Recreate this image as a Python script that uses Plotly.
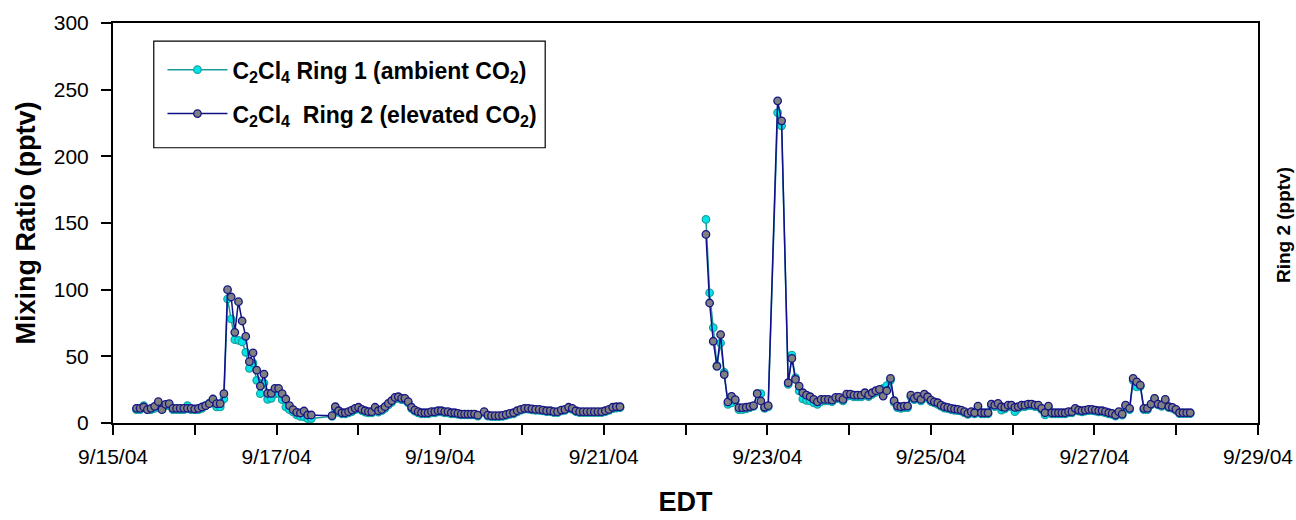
import pandas as pd
import plotly.graph_objects as go

# ---------------- data ----------------
# segment time spans (start, end); samples evenly spaced inside each segment
SEG_START = ["2004-09-15 06:53", "2004-09-17 16:16", "2004-09-19 12:55",
             "2004-09-22 06:00", "2004-09-23 03:02", "2004-09-23 06:08",
             "2004-09-24 13:13", "2004-09-27 10:19"]
SEG_END = ["2004-09-17 10:12", "2004-09-19 11:04", "2004-09-21 04:47",
           "2004-09-23 00:16", "2004-09-23 04:12", "2004-09-24 12:09",
           "2004-09-27 09:08", "2004-09-28 04:07"]
# a data gap (no line) occurs before this segment index
BREAK_BEFORE = 3

ring1_a = [10, 10, 13, 10, 10, 11, 15, 12, 13, 13, 10, 10, 10, 10, 13, 10, 10, 10, 11, 13,
           15, 15, 12, 12, 18, 93, 78, 62.5, 62, 60.8, 53, 41, 45, 32, 22, 30, 17.7, 18.5,
           22, 22, 17.5, 12, 10, 8.4, 6, 5, 4.5, 3.3, 3.3]
ring2_a = [11, 11, 12, 10, 11, 12.5, 16, 10, 14, 14.5, 11, 11, 11, 11, 11, 11, 10.5, 11, 12, 13,
           14.5, 18, 14.5, 14.5, 22, 100, 94.5, 68, 91, 76.5, 65, 46, 52.6, 39.6, 27.7, 36.7,
           22.2, 22.2, 26, 26, 22, 18, 13, 10, 8, 7.5, 9, 6, 6]

ring1_b1 = [5, 10.5, 8, 6.8, 6.8, 7.5, 8.5, 10, 11, 9.2, 8.2, 7.5, 7.5, 10.5, 8.2, 9.2, 11, 13.5,
            15.5, 18, 18.5, 17.5, 17.2, 15, 10.8, 8.8, 7.6, 6.9, 6.9, 6.9, 7.6, 7.6, 8.4, 8.4,
            7.6, 7.6, 6.9, 6.9, 6.4, 6, 6, 6, 6, 6, 5.2]
ring2_b1 = [5.5, 12.2, 9.2, 7.7, 7.7, 8.5, 9.7, 11, 11.8, 10.2, 9.2, 8.5, 8.5, 11.8, 9.2, 10.2,
            12.2, 14.7, 16.7, 19.2, 19.7, 18.5, 18.5, 16, 11.8, 9.7, 8.5, 7.7, 7.7, 7.7, 8.5,
            8.5, 9.2, 9.2, 8.5, 8.5, 7.7, 7.7, 7.2, 6.7, 6.7, 6.7, 6.7, 6.7, 5.9]

ring1_b2 = [7.8, 5.2, 4.8, 4.8, 4.8, 5, 5.6, 6.4, 6.9, 8.4, 9.6, 10.4, 10.3, 9.9, 9.5, 9.4, 9,
            8.5, 8.5, 7.8, 7.8, 9, 9.5, 11, 10.2, 8.5, 7.8, 7.8, 7.8, 7.8, 7.8, 7.8, 7.8, 8.5,
            9.5, 10.8, 11.2, 11.5]
ring2_b2 = [8.5, 5.9, 5.5, 5.5, 5.5, 5.7, 6.4, 7.2, 7.7, 9.2, 10.2, 11, 11, 10.6, 10.2, 10.2,
            9.7, 9.2, 9.2, 8.5, 8.5, 9.7, 10.2, 11.8, 11, 9.2, 8.5, 8.5, 8.5, 8.5, 8.5, 8.5,
            8.5, 9.2, 10.2, 11.8, 12.2, 12.2]

ring1_c1 = [152.7, 97.7, 71.5, 43, 60, 38, 14, 15, 16.5, 10, 10, 10.5, 11.5, 12.5, 22, 22, 11, 12]
ring2_c1 = [141.4, 90, 61.3, 42.5, 66.3, 36.3, 15.8, 20, 17.5, 11.5, 11.5, 11.8, 12.3, 13, 22,
            16.5, 11.8, 13]

ring1_c2 = [232.8, 222.9]
ring2_c2 = [241.6, 226.6]

ring1_c3 = [29, 51, 34, 24, 18, 17, 16.5, 15, 14, 16, 16.5, 16.5, 16, 18, 18.5, 16.5, 20, 20.5,
            19.5, 19.5, 19.5, 21, 19.8, 21.5, 23, 24, 26, 28, 32]
ring2_c3 = [30.2, 48.4, 32.7, 27.7, 22.7, 20.9, 19.7, 17.7, 15.9, 17.7, 17.7, 17.7, 17.2, 19.2,
            19.2, 17.7, 21.7, 21.7, 20.9, 20.9, 20.9, 22.7, 20.9, 22.7, 24.2, 25.2, 20.2, 24.2,
            33.4]

ring1_c4 = [15.5, 11.5, 11, 11.5, 11.5, 19.5, 17.5, 19, 16.5, 20.5, 18.5, 16, 15, 14, 12.5, 11.2,
            10.8, 10, 9.5, 9.2, 8.8, 7.6, 6.4, 7.6, 6.8, 11.5, 6.8, 6.8, 6.8, 13, 12.3, 13.5,
            9.7, 10.5, 12.3, 12.3, 8.5, 11, 12.3, 12.3, 13, 13, 12.3, 12.3, 10, 6, 11.5, 6.8,
            6.8, 6.8, 6.8, 6.8, 7.6, 7.6, 10, 8.8, 8.3, 8.8, 9.2, 9.2, 8.8, 8.3, 8.3, 7.6, 6.8,
            6.4, 5.2, 7.6, 5.8, 12.5]
ring2_c4 = [16.7, 12.7, 12.2, 12.7, 12.7, 20.9, 18.5, 20.2, 17.7, 21.7, 19.7, 17.2, 15.9, 15.2,
            13.4, 12.2, 11.7, 11, 10.5, 10.2, 9.7, 8.5, 7.2, 8.5, 7.7, 12.7, 7.7, 7.7, 7.7, 14.2,
            13.4, 14.7, 12.2, 11.7, 13.4, 13.4, 11.7, 12.2, 13.4, 13.4, 14.2, 14.2, 13.4, 13.4,
            11, 7.7, 12.7, 7.7, 7.7, 7.7, 7.7, 7.7, 8.5, 8.5, 11, 9.7, 9.2, 9.7, 10.2, 10.2, 9.7,
            9.2, 9.2, 8.5, 7.7, 7.2, 6, 8.5, 6.7, 13.4]

ring1_c5 = [10, 32, 27, 27.5, 10, 10, 13.5, 17.5, 13.5, 12.5, 16.5, 11.5, 11, 9.5, 7, 7, 7, 7]
ring2_c5 = [11, 33.4, 30.9, 28.4, 11, 11, 14.2, 18.5, 14.2, 13.4, 17.7, 12.2, 11.7, 10.2, 7.7,
            7.7, 7.7, 7.7]

RING1_SEGS = [ring1_a, ring1_b1, ring1_b2, ring1_c1, ring1_c2, ring1_c3, ring1_c4, ring1_c5]
RING2_SEGS = [ring2_a, ring2_b1, ring2_b2, ring2_c1, ring2_c2, ring2_c3, ring2_c4, ring2_c5]

TICK_DATES = ["2004-09-15", "2004-09-17", "2004-09-19", "2004-09-21",
              "2004-09-23", "2004-09-25", "2004-09-27", "2004-09-29"]
TICK_LABELS = ["9/15/04", "9/17/04", "9/19/04", "9/21/04",
               "9/23/04", "9/25/04", "9/27/04", "9/29/04"]
MINOR_TICK_DATES = ["2004-09-16", "2004-09-18", "2004-09-20", "2004-09-22",
                    "2004-09-24", "2004-09-26", "2004-09-28"]
Y_TICKS = [0, 50, 100, 150, 200, 250, 300]

NAME1 = "<b>C<sub>2</sub>Cl<sub>4</sub> Ring 1 (ambient CO<sub>2</sub>)</b>"
NAME2 = "<b>C<sub>2</sub>Cl<sub>4</sub>\u00a0 Ring 2 (elevated CO<sub>2</sub>)</b>"


def build(segs):
    xs, ys = [], []
    for i, vals in enumerate(segs):
        if i == BREAK_BEFORE:
            xs.append(None)
            ys.append(None)
        t = pd.date_range(SEG_START[i], SEG_END[i], periods=len(vals))
        xs.extend(list(t))
        ys.extend(vals)
    return xs, ys


x1, y1 = build(RING1_SEGS)
x2, y2 = build(RING2_SEGS)

FONT = "Liberation Sans, Arial, sans-serif"
TICKSTYLE = dict(ticks="outside", ticklen=10, tickwidth=1.5, tickcolor="black")

fig = go.Figure()
fig.add_trace(go.Scatter(
    x=x1, y=y1, mode="lines+markers", name=NAME1, legendgroup="r1",
    line=dict(color="#1b9a9a", width=1.5),
    marker=dict(symbol="circle", size=7.5, color="#00e5e5",
                line=dict(color="#15a0a0", width=1.2)),
))
fig.add_trace(go.Scatter(
    x=x2, y=y2, mode="lines+markers", name=NAME2, legendgroup="r2",
    line=dict(color="#101088", width=1.5),
    marker=dict(symbol="circle", size=7.5, color="#808080",
                line=dict(color="#151585", width=1.3)),
))

fig.update_layout(
    width=1296, height=520,
    margin=dict(l=112.5, r=37.7, t=22.5, b=97.3, autoexpand=False),
    paper_bgcolor="white", plot_bgcolor="white",
    font=dict(family=FONT, color="black", size=21),
    showlegend=True,
    legend=dict(
        x=(162 - 112.5) / 1145.8, y=0.937, xanchor="left", yanchor="top",
        bgcolor="rgba(0,0,0,0)", borderwidth=0,
        font=dict(family=FONT, size=23, color="black"),
        traceorder="grouped", tracegroupgap=11, itemwidth=60,
    ),
    # legend frame
    shapes=[dict(type="rect", xref="paper", yref="paper",
                 x0=(153.3 - 112.5) / 1145.8, x1=(545 - 112.5) / 1145.8,
                 y0=(422.7 - 147.3) / 400.2, y1=(422.7 - 40.7) / 400.2,
                 line=dict(color="black", width=1.2), fillcolor="white", layer="below")],
    xaxis=dict(
        type="date",
        range=["2004-09-15", "2004-09-29"],
        tickmode="array", tickvals=TICK_DATES, ticktext=TICK_LABELS,
        ticklabelstandoff=4,
        minor=dict(tickmode="array", tickvals=MINOR_TICK_DATES, **TICKSTYLE),
        showline=True, linecolor="black", linewidth=2, mirror=True,
        showgrid=False, zeroline=False,
        tickfont=dict(family=FONT, size=21),
        title=dict(text="<b>EDT</b>", font=dict(family=FONT, size=27), standoff=25),
        **TICKSTYLE,
    ),
    yaxis=dict(
        range=[0, 300], tickmode="array", tickvals=Y_TICKS,
        ticklabelstandoff=8,
        showline=True, linecolor="black", linewidth=2, mirror=True,
        showgrid=False, zeroline=False,
        tickfont=dict(family=FONT, size=21),
        title=dict(text="<b>Mixing Ratio (pptv)</b>", font=dict(family=FONT, size=27),
                   standoff=10),
        **TICKSTYLE,
    ),
    annotations=[dict(
        text="<b>Ring 2 (pptv)</b>", xref="paper", yref="paper",
        x=(1284 - 112.5) / 1145.8, y=0.494, textangle=-90, showarrow=False,
        font=dict(family=FONT, size=19, color="black"),
        xanchor="center", yanchor="middle",
    )],
)

fig.write_html("out.html")
